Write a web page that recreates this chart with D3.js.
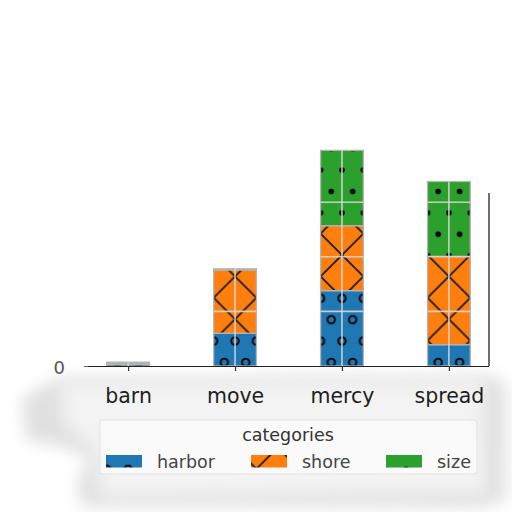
<!DOCTYPE html>
<html>
<head>
<meta charset="utf-8">
<script src="https://cdn.jsdelivr.net/npm/d3@7"></script>
<style>
  body { margin: 0; background: #fff; }
  svg { display: block; font-family: "DejaVu Sans", sans-serif; }
</style>
</head>
<body>
<svg width="512" height="512"></svg>
<script>
const categories = ["barn", "move", "mercy", "spread"]
const seriesNames = ["harbor", "shore", "size"]
const harbor = [0.03, 0.60, 1.38, 0.39]
const shore = [0.02, 1.16, 1.19, 1.62]
const size = [0.02, 0.02, 1.38, 1.37]
const yTicks = [0]
const gridValues = [1, 2, 3]
const colors = ["#1f77b4", "#ff7f0e", "#2ca02c"]
const legendTitle = "categories"

const svg = d3.select("svg")

const rows = categories.map((c, i) => ({cat: c, i: i, harbor: harbor[i], shore: shore[i], size: size[i]}))
const stacked = d3.stack().keys(seriesNames)(rows)

const x = d3.scaleLinear().domain([-0.375, 3.375]).range([88, 489])
const y = d3.scaleLinear().domain([0, 4.14]).range([366, 140])
const bw = x(0.2) - x(-0.2)
const tw = (x(1) - x(0)) / 5

const defs = svg.append("defs")

// smudge behind axis + legend
const blur = defs.append("filter").attr("id", "blur").attr("x", "-20%").attr("y", "-20%").attr("width", "140%").attr("height", "140%")
blur.append("feGaussianBlur").attr("stdDeviation", 8)

svg.append("path")
  .attr("d", "M22,398 L60,378 L495,376 L506,385 L506,500 L480,507 L80,506 L78,478 L92,458 L60,446 L26,440 Z")
  .attr("fill", "#e0e0e0")
  .attr("filter", "url(#blur)")
svg.append("path")
  .attr("d", "M60,382 L484,380 L486,494 L100,497 L96,452 L64,424 Z")
  .attr("fill", "#f3f3f3")
  .attr("filter", "url(#blur)")

// hatches
let p = defs.append("pattern").attr("id", "hatch-harbor").attr("patternUnits", "userSpaceOnUse")
  .attr("x", x(2)).attr("y", 170).attr("width", tw).attr("height", tw * 2)
p.append("rect").attr("width", tw).attr("height", tw * 2).attr("fill", colors[0])
;[[0, 0], [tw, 0], [0, tw * 2], [tw, tw * 2], [tw / 2, tw]].forEach(d => {
  p.append("circle").attr("cx", d[0]).attr("cy", d[1]).attr("r", 3.7)
    .attr("fill", "none").attr("stroke", "#0a0a0a").attr("stroke-width", 2.1)
})

p = defs.append("pattern").attr("id", "hatch-shore").attr("patternUnits", "userSpaceOnUse")
  .attr("x", x(2)).attr("y", 255).attr("width", tw * 2).attr("height", tw * 2)
p.append("rect").attr("width", tw * 2).attr("height", tw * 2).attr("fill", colors[1])
p.append("path").attr("d", `M0,0L${tw * 2},${tw * 2}M${tw * 2},0L0,${tw * 2}`)
  .attr("stroke", "#1a1a1a").attr("stroke-width", 1.8)

p = defs.append("pattern").attr("id", "hatch-size").attr("patternUnits", "userSpaceOnUse")
  .attr("x", x(2)).attr("y", 170).attr("width", tw).attr("height", tw * 2)
p.append("rect").attr("width", tw).attr("height", tw * 2).attr("fill", colors[2])
;[[0, 0], [tw, 0], [0, tw * 2], [tw, tw * 2], [tw / 2, tw]].forEach(d => {
  p.append("circle").attr("cx", d[0]).attr("cy", d[1]).attr("r", 2.8).attr("fill", "#000")
})

// bars
const clip = defs.append("clipPath").attr("id", "barclip")
stacked.forEach(s => {
  s.forEach(d => {
    clip.append("rect")
      .attr("x", x(d.data.i) - bw / 2).attr("y", y(d[1]))
      .attr("width", bw).attr("height", y(d[0]) - y(d[1]))
  })
})

svg.append("g").selectAll("g")
  .data(stacked)
  .join("g")
  .attr("fill", d => `url(#hatch-${d.key})`)
  .selectAll("rect")
  .data(d => d)
  .join("rect")
  .attr("x", d => x(d.data.i) - bw / 2)
  .attr("y", d => y(d[1]))
  .attr("width", bw)
  .attr("height", d => y(d[0]) - y(d[1]))
  .attr("stroke", "#b4b4b4")
  .attr("stroke-width", 1.3)

// grid over bars, only visible where bars are
const grid = svg.append("g").attr("clip-path", "url(#barclip)")
  .attr("stroke", "#d6d6d6").attr("stroke-opacity", 0.9).attr("stroke-width", 1.6)
grid.selectAll(".h").data(gridValues).join("line").attr("class", "h")
  .attr("x1", x.range()[0]).attr("x2", x.range()[1])
  .attr("y1", d => y(d)).attr("y2", d => y(d))
grid.selectAll(".v").data(categories).join("line").attr("class", "v")
  .attr("x1", (d, i) => x(i)).attr("x2", (d, i) => x(i))
  .attr("y1", y.range()[0]).attr("y2", y.range()[1])

// axes
const xAxis = d3.axisBottom(x).tickValues(d3.range(categories.length))
  .tickFormat(i => categories[i]).tickSize(5).tickPadding(17)
const gx = svg.append("g").attr("transform", `translate(0,${y(0)})`).call(xAxis)
gx.select(".domain").attr("stroke", "#222").attr("stroke-width", 1.2)
  .attr("d", `M${x.range()[0] - 3},0.5H${x.range()[1]}`)
gx.selectAll(".tick line").attr("stroke", "#333").attr("stroke-width", 1.2)
gx.selectAll(".tick text").attr("font-size", 20.5).attr("fill", "#1e1e1e")
  .attr("font-family", "DejaVu Sans")

const yAxis = d3.axisLeft(y).tickValues(yTicks).tickFormat(d3.format("d")).tickSize(4).tickPadding(19)
const gy = svg.append("g").attr("transform", `translate(${x.range()[0]},0)`).call(yAxis)
gy.select(".domain").remove()
gy.selectAll(".tick line").attr("stroke", "#666")
gy.selectAll(".tick text").attr("font-size", 18).attr("fill", "#555")
  .attr("font-family", "DejaVu Sans").attr("dy", "0.4em")

svg.append("line")
  .attr("x1", x.range()[1]).attr("x2", x.range()[1])
  .attr("y1", 193).attr("y2", y(0))
  .attr("stroke", "#333").attr("stroke-width", 1.4)

// legend
const lg = svg.append("g")
lg.append("rect")
  .attr("x", 100).attr("y", 420).attr("width", 377).attr("height", 54).attr("rx", 3)
  .attr("fill", "#fafafa").attr("fill-opacity", 0.85)
  .attr("stroke", "#e2e2e2")
lg.append("text")
  .attr("x", 288).attr("y", 441).attr("text-anchor", "middle")
  .attr("font-size", 17.5).attr("fill", "#333")
  .text(legendTitle)
const lx = [106, 251, 386]
const items = lg.selectAll(".item").data(seriesNames).join("g").attr("class", "item")
items.append("rect")
  .attr("x", (d, i) => lx[i]).attr("y", 455).attr("width", 36).attr("height", 12.5)
  .attr("fill", d => `url(#hatch-${d})`)
items.append("text")
  .attr("x", (d, i) => lx[i] + 51).attr("y", 467.5)
  .attr("font-size", 17.5).attr("fill", "#444")
  .text(d => d)
</script>
</body>
</html>
